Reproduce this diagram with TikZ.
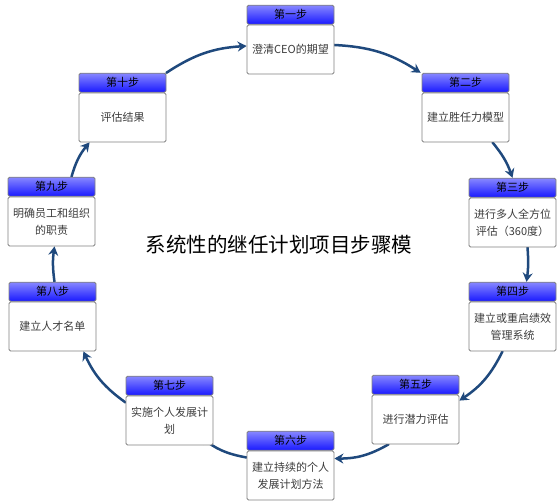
\documentclass[tikz,border=0pt]{standalone}
\usepackage{fontspec}
\setmainfont{Noto Sans CJK SC}
\newfontfamily\cjk{Noto Sans CJK SC}
\usetikzlibrary{arrows.meta,calc}
\definecolor{boxgray}{RGB}{128,128,128}
\definecolor{headtop}{RGB}{135,135,255}
\definecolor{headbot}{RGB}{25,25,255}
\definecolor{bodytext}{RGB}{60,60,60}
\definecolor{linkblue}{RGB}{31,73,125}
\pgfdeclarelayer{bg}
\pgfsetlayers{bg,main}
\tikzset{
  bodybox/.style={draw=boxgray, fill=white, line width=0.8pt, minimum width=87pt, minimum height=49pt,
    inner sep=1pt, align=center, text=bodytext, rounded corners=1.5pt, font=\cjk\fontsize{11}{17}\selectfont},
  headbox/.style={draw=boxgray, top color=headtop, bottom color=headbot, line width=0.8pt,
    minimum width=87pt, minimum height=19pt, inner sep=0pt, anchor=south, text=black,
    rounded corners=1.5pt, font=\cjk\fontsize{11}{13}\selectfont},
  link/.style={draw=linkblue, line width=2.5pt, line cap=round,
    -{Stealth[length=9pt,width=10pt,inset=3pt]}},
}
\begin{document}
\begin{tikzpicture}[x=1pt,y=1pt]
\useasboundingbox (0,0) rectangle (560,-502);
% bodies
\node[bodybox] (b1) at (290.5,-49.5) {澄清CEO的期望};
\node[bodybox] (b2) at (465.5,-117.5) {建立胜任力模型};
\node[bodybox] (b3) at (512.5,-222.5) {进行多人全方位\\评估（360度）};
\node[bodybox] (b4) at (512.5,-326.5) {建立或重启绩效\\管理系统};
\node[bodybox] (b5) at (415.5,-419.5) {进行潜力评估};
\node[bodybox] (b6) at (290.5,-475.5) {建立持续的个人\\发展计划方法};
\node[bodybox] (b7) at (169.5,-420.5) {实施个人发展计\\划};
\node[bodybox] (b8) at (52.5,-326.5) {建立人才名单};
\node[bodybox] (b9) at (51.5,-221.5) {明确员工和组织\\的职责};
\node[bodybox] (b10) at (122.5,-117.5) {评估结果};
% headers
\node[headbox] (h1) at (b1.north) {第一步};
\node[headbox] (h2) at (b2.north) {第二步};
\node[headbox] (h3) at (b3.north) {第三步};
\node[headbox] (h4) at (b4.north) {第四步};
\node[headbox] (h5) at (b5.north) {第五步};
\node[headbox] (h6) at (b6.north) {第六步};
\node[headbox] (h7) at (b7.north) {第七步};
\node[headbox] (h8) at (b8.north) {第八步};
\node[headbox] (h9) at (b9.north) {第九步};
\node[headbox] (h10) at (b10.north) {第十步};
% title
\node[font=\cjk\fontsize{20.5}{24}\selectfont, text=black] (title) at (279,-245) {系统性的继任计划项目步骤模};
% connectors
\begin{pgfonlayer}{bg}
\draw[link] ([yshift=4.5pt]b1.east) to[bend left=15] ([xshift=-1pt]h2.north west);
\draw[link] ([xshift=27pt]b2.south) to[bend left=10] (h3.north);
\draw[link] ([xshift=15pt]b3.south) to[bend left=6] ([xshift=14pt]h4.north);
\draw[link] ([xshift=-10pt]b4.south) to[bend left=15] ([yshift=-6pt]b5.north east);
\draw[link] ([xshift=-27pt]b5.south) to[bend left=15] ([yshift=17pt]b6.east);
\draw[link] ([yshift=18pt]b6.west) to[bend left=15] ([shift={(-14pt,10pt)}]b7.south east);
\draw[link] ([yshift=18pt]b7.west) to[bend left=15] ([xshift=-13pt]b8.south east);
\draw[link] ([xshift=2pt]h8.north) to[bend left=8] ([xshift=3pt]b9.south);
\draw[link] ([xshift=20pt]h9.north) to[bend left=12] ([xshift=11pt]b10.south west);
\draw[link] (h10.north east) to[bend left=15] ([yshift=3.5pt]b1.west);
\end{pgfonlayer}
\end{tikzpicture}
\end{document}
